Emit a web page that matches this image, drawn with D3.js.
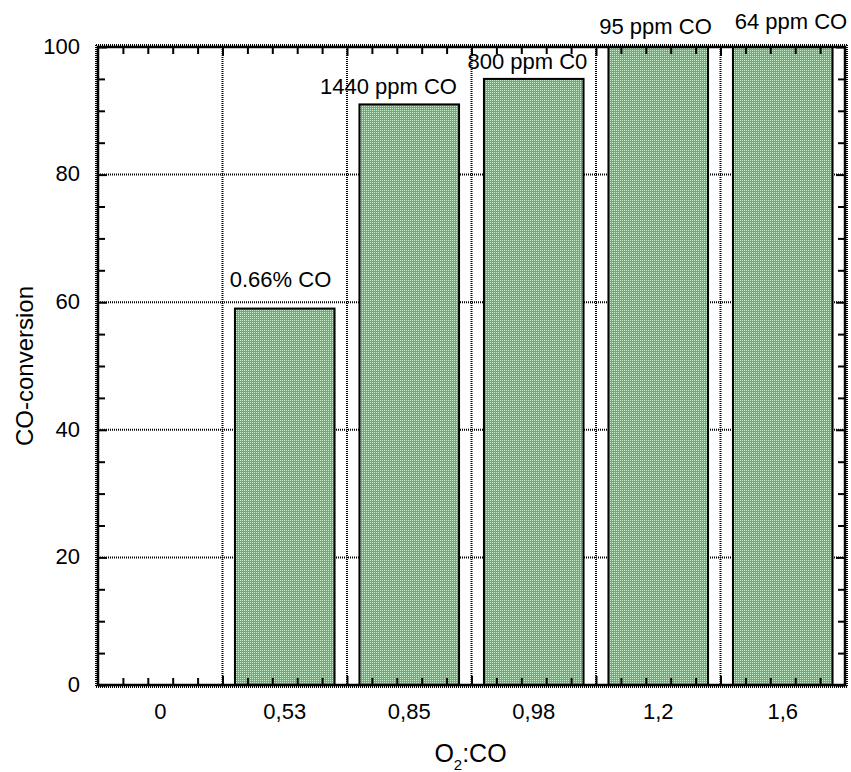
<!DOCTYPE html>
<html><head><meta charset="utf-8">
<script src="https://cdn.jsdelivr.net/npm/d3@7"></script>
<style>
body{margin:0;background:#fff}
svg{display:block}
text{font-family:"Liberation Sans",Arial,sans-serif;fill:#000}
</style>
</head><body>
<svg id="c" width="851" height="772"></svg>
<script>
// ---- data ----
const categories = ["0", "0,53", "0,85", "0,98", "1,2", "1,6"];
const conversion = [0, 59, 91, 95, 100, 100];
const yTicks = [0, 20, 40, 60, 80, 100];
const yMinorTicks = [5, 10, 15, 25, 30, 35, 45, 50, 55, 65, 70, 75, 85, 90, 95];
const labelTexts = ["0.66% CO", "1440 ppm CO", "800 ppm C0", "95 ppm CO", "64 ppm CO"];
// annotation anchor positions, in data units (category index units, conversion units)
const labelCat = [1.466, 2.333, 3.449, 4.478, 5.566];
const labelVal = [62.4, 92.6, 96.6, 102.0, 102.8];
const xTitle = ["O", "2", ":CO"];
const yTitle = "CO-conversion";

// ---- layout ----
const L = 98, R = 845, T = 47, B = 685;
const svg = d3.select("#c");

const defs = svg.append("defs");
const pat = defs.append("pattern").attr("id", "pat").attr("width", 2).attr("height", 2)
  .attr("patternUnits", "userSpaceOnUse");
pat.append("rect").attr("width", 2).attr("height", 2).attr("fill", "rgb(92,184,104)");
pat.append("rect").attr("width", 1).attr("height", 1).attr("fill", "rgb(200,238,204)");

const x = d3.scaleBand().domain(categories).range([L, R]).paddingInner(0.2).paddingOuter(0.1);
const xc = d3.scaleLinear().domain([0, categories.length]).range([L, R]);
const y = d3.scaleLinear().domain([0, 100]).range([B, T]);

const boundaries = d3.range(1, categories.length);
const xMinor = d3.range(0, categories.length * 5 + 1).map(i => i / 5).filter(v => v % 1 !== 0);

// gridlines
const grid = svg.append("g").attr("stroke", "#000").attr("stroke-width", 2).attr("stroke-dasharray", "1 1");
grid.selectAll("line.h").data(yTicks.filter(v => v > 0 && v < 100)).join("line")
  .attr("x1", L).attr("x2", R).attr("y1", d => y(d)).attr("y2", d => y(d));
grid.selectAll("line.v").data(boundaries).join("line")
  .attr("x1", d => xc(d)).attr("x2", d => xc(d)).attr("y1", T).attr("y2", B);

// bars
svg.append("g").selectAll("rect")
  .data(categories.map((c, i) => ({c, v: conversion[i]})).filter(d => d.v > 0))
  .join("rect")
  .attr("x", d => x(d.c)).attr("width", x.bandwidth())
  .attr("y", d => y(d.v)).attr("height", d => B - y(d.v))
  .attr("fill", "url(#pat)").attr("stroke", "#000").attr("stroke-width", 2);

// frame + ruler hash
svg.append("rect").attr("x", L).attr("y", T).attr("width", R - L).attr("height", B - T)
  .attr("fill", "none").attr("stroke", "#000").attr("stroke-width", 2.5);
const hash = svg.append("g").attr("stroke", "#000").attr("stroke-width", 2).attr("stroke-dasharray", "1 1");
hash.append("line").attr("x1", L - 2).attr("x2", L - 2).attr("y1", T - 2).attr("y2", B + 2);
hash.append("line").attr("x1", R + 2).attr("x2", R + 2).attr("y1", T - 2).attr("y2", B + 2);
hash.append("line").attr("x1", L - 2).attr("x2", R + 2).attr("y1", T - 2).attr("y2", T - 2);
hash.append("line").attr("x1", L - 2).attr("x2", R + 2).attr("y1", B + 2).attr("y2", B + 2);

function styleAxis(g, fs) {
  g.select(".domain").remove();
  g.selectAll("line").attr("stroke", "#000").attr("stroke-width", 2);
  g.attr("font-family", null).attr("font-size", fs);
}

// left axis (major with labels)
svg.append("g").attr("transform", `translate(${L},0)`)
  .call(d3.axisLeft(y).tickValues(yTicks).tickSizeInner(-9).tickSizeOuter(0).tickPadding(18))
  .call(g => styleAxis(g, 22))
  .call(g => g.selectAll("text").attr("dy", "0.29em"));
svg.append("g").attr("transform", `translate(${L},0)`)
  .call(d3.axisLeft(y).tickValues(yMinorTicks).tickSizeInner(-7).tickSizeOuter(0).tickFormat(""))
  .call(g => styleAxis(g, 22));
// right axis
svg.append("g").attr("transform", `translate(${R},0)`)
  .call(d3.axisRight(y).tickValues(yTicks).tickSizeInner(-9).tickSizeOuter(0).tickFormat(""))
  .call(g => styleAxis(g, 22));
svg.append("g").attr("transform", `translate(${R},0)`)
  .call(d3.axisRight(y).tickValues(yMinorTicks).tickSizeInner(-7).tickSizeOuter(0).tickFormat(""))
  .call(g => styleAxis(g, 22));

// bottom axis labels
svg.append("g").attr("transform", `translate(0,${B})`)
  .call(d3.axisBottom(x).tickSize(0).tickPadding(18))
  .call(g => styleAxis(g, 22));
// bottom/top major & minor ticks
[["bottom", B], ["top", T]].forEach(([side, pos]) => {
  const ax = side === "bottom" ? d3.axisBottom : d3.axisTop;
  svg.append("g").attr("transform", `translate(0,${pos})`)
    .call(ax(xc).tickValues(boundaries).tickSizeInner(-9).tickSizeOuter(0).tickFormat(""))
    .call(g => styleAxis(g, 22));
  svg.append("g").attr("transform", `translate(0,${pos})`)
    .call(ax(xc).tickValues(xMinor).tickSizeInner(-7).tickSizeOuter(0).tickFormat(""))
    .call(g => styleAxis(g, 22));
});

// bar annotations
svg.append("g").selectAll("text").data(labelTexts).join("text")
  .attr("x", (d, i) => xc(labelCat[i])).attr("y", (d, i) => y(labelVal[i]))
  .attr("text-anchor", "middle").attr("font-size", 22).text(d => d);

// axis titles
const xt = svg.append("text").attr("x", (L + R) / 2 - 1).attr("y", 762)
  .attr("text-anchor", "middle").attr("font-size", 25);
xt.append("tspan").text(xTitle[0]);
xt.append("tspan").attr("font-size", 15).attr("dy", 8).text(xTitle[1]);
xt.append("tspan").attr("dy", -8).text(xTitle[2]);

svg.append("text").attr("transform", `translate(33,${(T + B) / 2}) rotate(-90)`)
  .attr("text-anchor", "middle").attr("font-size", 24).text(yTitle);
</script>
</body></html>
